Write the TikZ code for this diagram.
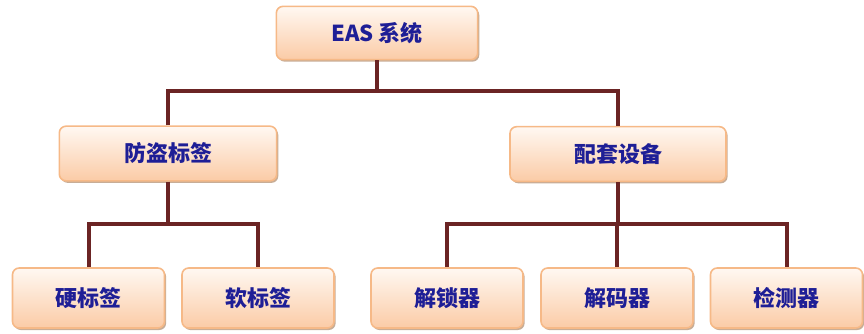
\documentclass[tikz,border=0pt]{standalone}
\usepackage{fontspec}
\newfontfamily\cjk{Noto Sans CJK SC}
\usetikzlibrary{shadows}
\definecolor{linec}{HTML}{6B2424}
\definecolor{boxedge}{HTML}{F6B987}
\definecolor{boxtop}{HTML}{FFF8F2}
\definecolor{boxbot}{HTML}{FBCBA6}
\definecolor{txt}{HTML}{1E1E96}
\definecolor{shadowc}{HTML}{B08A6A}
\tikzset{
  box/.style={draw=boxedge, line width=1.2pt, rounded corners=5pt,
    top color=boxtop, bottom color=boxbot, text=txt,
    font=\cjk\bfseries\fontsize{16.5}{19}\selectfont,
    drop shadow={shadow xshift=1.2pt, shadow yshift=-1.5pt, fill=shadowc, opacity=0.7},
    inner sep=0pt, anchor=center},
  conn/.style={draw=linec, line width=3pt}
}
\begin{document}
\begin{tikzpicture}[x=0.75pt, y=-0.75pt]
\useasboundingbox (0,0) rectangle (864,333);
\coordinate (j1) at (377,91);
\coordinate (j2) at (168,224);
\coordinate (j3) at (618,224);
\node[box, minimum width=151pt, minimum height=40pt] (eas) at (377,33) {EAS 系统};
\node[box, minimum width=163pt, minimum height=41pt] (ft) at (168,153.5) {防盗标签};
\node[box, minimum width=162pt, minimum height=41pt] (pt) at (618,154) {配套设备};
\node[box, minimum width=114pt, minimum height=45pt] (yb) at (88.5,298) {硬标签};
\node[box, minimum width=114pt, minimum height=45pt] (rb) at (258,298) {软标签};
\node[box, minimum width=114pt, minimum height=45pt] (js) at (447,298) {解锁器};
\node[box, minimum width=114pt, minimum height=45pt] (jm) at (617,298) {解码器};
\node[box, minimum width=114pt, minimum height=45pt] (jc) at (786.5,298) {检测器};
\draw[conn] (eas.south) -- (j1);
\draw[conn] (ft.north) -- (ft.north |- j1) -- (pt.north |- j1) -- (pt.north);
\draw[conn] (ft.south) -- (j2);
\draw[conn] (yb.north) -- (yb.north |- j2) -- (rb.north |- j2) -- (rb.north);
\draw[conn] (pt.south) -- (j3);
\draw[conn] (js.north) -- (js.north |- j3) -- (jc.north |- j3) -- (jc.north);
\draw[conn] (jm.north) -- (jm.north |- j3);
\end{tikzpicture}
\end{document}
